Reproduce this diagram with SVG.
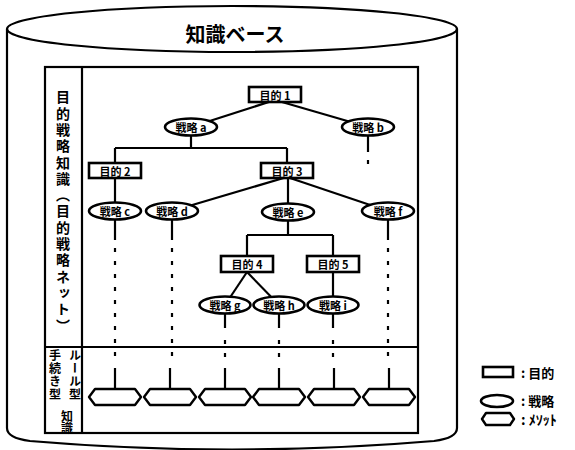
<svg xmlns="http://www.w3.org/2000/svg" width="575" height="450" viewBox="0 0 575 450">
<style>
.ln{stroke:#000;stroke-width:2.2;fill:none}
.dash{stroke:#000;stroke-width:2.2;fill:none;stroke-dasharray:4 9}
.box{fill:#fff;stroke:#000;stroke-width:2.6}
.ell{fill:#fff;stroke:#000;stroke-width:2.6}
.hex{fill:#fff;stroke:#000;stroke-width:2.4;stroke-linejoin:round}
.t{font-family:"Noto Sans CJK JP","Noto Sans",sans-serif;font-weight:bold;fill:#000}
.nt{font-size:11px;text-anchor:middle;dominant-baseline:central}
.vt{writing-mode:vertical-rl}
</style>
<g id="cylinder">
<path class="ln" d="M7 29 V428 Q7 438 30 441 Q232 458 434 441 Q457 438 457 428 V29" stroke-width="2.4"/>
<ellipse class="ln" cx="232" cy="29" rx="225" ry="23" stroke-width="2.4"/>
<text class="t" x="235" y="33" font-size="20" text-anchor="middle" dominant-baseline="central">知識ベース</text>
</g>
<g id="frame">
<rect class="ln" x="45" y="67" width="373" height="366" stroke-width="2.4"/>
<line class="ln" x1="82" y1="67" x2="82" y2="433" stroke-width="2.4"/>
<line class="ln" x1="45" y1="347" x2="418" y2="347" stroke-width="2"/>
<text class="t vt" x="63" y="90" font-size="14" letter-spacing="2.3">目的戦略知識（目的戦略ネット）</text>
<text class="t vt" x="75" y="349" font-size="12" letter-spacing="1.2">ルール型</text>
<text class="t vt" x="55" y="349" font-size="12" letter-spacing="1.2">手続き型</text>
<text class="t vt" x="67" y="410" font-size="12" letter-spacing="0">知識</text>
</g>
<g id="connectors">
<line class="ln" x1="275" y1="100" x2="191" y2="127"/>
<line class="ln" x1="275" y1="100" x2="368" y2="127"/>
<path class="ln" d="M191 135 V148 M115 148 H287 M115 148 V163 M287 148 V163"/>
<line class="ln" x1="115" y1="177" x2="115" y2="205"/>
<line class="ln" x1="287" y1="177" x2="172" y2="211"/>
<line class="ln" x1="288" y1="177" x2="288" y2="205"/>
<line class="ln" x1="287" y1="177" x2="388" y2="211"/>
<path class="ln" d="M288 220 V235 M247 235 H333 M247 235 V256 M333 235 V256"/>
<line class="ln" x1="247" y1="272" x2="225" y2="305"/>
<line class="ln" x1="247" y1="272" x2="279" y2="305"/>
<line class="ln" x1="333" y1="272" x2="333" y2="300"/>
<path class="ln" d="M368 135 V152"/>
<path class="dash" d="M368 160 V168"/>
<path class="ln" d="M115 219 V240 M172 219 V240 M388 219 V240 M225 313 V328 M279 313 V328 M333 313 V328"/>
<path class="dash" d="M115 248 V362 M172 248 V362 M388 248 V362 M225 340 V362 M279 340 V362 M333 340 V362"/>
<path class="ln" d="M115 368 V389 M170 368 V389 M225 368 V389 M279 368 V389 M334 368 V389 M389 368 V389"/>
</g>
<g id="goal1"><rect class="box" x="249" y="87" width="52" height="15"/><text class="t nt" x="275" y="94.5">目的 1</text></g>
<g id="goal2"><rect class="box" x="89" y="163" width="52" height="15"/><text class="t nt" x="115" y="170.5">目的 2</text></g>
<g id="goal3"><rect class="box" x="261" y="163" width="52" height="15"/><text class="t nt" x="287" y="170.5">目的 3</text></g>
<g id="goal4"><rect class="box" x="221" y="256" width="52" height="16"/><text class="t nt" x="247" y="264">目的 4</text></g>
<g id="goal5"><rect class="box" x="307" y="256" width="52" height="16"/><text class="t nt" x="333" y="264">目的 5</text></g>
<g id="strat-a"><ellipse class="ell" cx="191" cy="127" rx="26" ry="8.5"/><text class="t nt" x="191" y="127" font-size="10">戦略 a</text></g>
<g id="strat-b"><ellipse class="ell" cx="368" cy="127" rx="26" ry="8.5"/><text class="t nt" x="368" y="127" font-size="10">戦略 b</text></g>
<g id="strat-c"><ellipse class="ell" cx="115" cy="211" rx="26" ry="8.5"/><text class="t nt" x="115" y="211" font-size="10">戦略 c</text></g>
<g id="strat-d"><ellipse class="ell" cx="172" cy="211" rx="26" ry="8.5"/><text class="t nt" x="172" y="211" font-size="10">戦略 d</text></g>
<g id="strat-e"><ellipse class="ell" cx="288" cy="212" rx="26" ry="8.5"/><text class="t nt" x="288" y="212" font-size="10">戦略 e</text></g>
<g id="strat-f"><ellipse class="ell" cx="388" cy="211" rx="26" ry="8.5"/><text class="t nt" x="388" y="211" font-size="10">戦略 f</text></g>
<g id="strat-g"><ellipse class="ell" cx="225" cy="305" rx="25.5" ry="8.5"/><text class="t nt" x="225" y="305" font-size="10">戦略 g</text></g>
<g id="strat-h"><ellipse class="ell" cx="279" cy="305" rx="25.5" ry="8.5"/><text class="t nt" x="279" y="305" font-size="10">戦略 h</text></g>
<g id="strat-i"><ellipse class="ell" cx="333" cy="305" rx="25.5" ry="8.5"/><text class="t nt" x="333" y="305" font-size="10">戦略 i</text></g>
<g id="methods">
<polygon class="hex" points="89,397 95,389 135,389 141,397 135,405 95,405"/>
<polygon class="hex" points="144,397 150,389 190,389 196,397 190,405 150,405"/>
<polygon class="hex" points="199,397 205,389 245,389 251,397 245,405 205,405"/>
<polygon class="hex" points="253,397 259,389 299,389 305,397 299,405 259,405"/>
<polygon class="hex" points="308,397 314,389 354,389 360,397 354,405 314,405"/>
<polygon class="hex" points="363,397 369,389 409,389 415,397 409,405 369,405"/>
</g>
<g id="legend">
<rect class="box" x="483" y="367" width="30" height="10"/>
<text class="t" x="521" y="372" font-size="13" dominant-baseline="central">: 目的</text>
<ellipse class="ell" cx="497" cy="401" rx="16" ry="6"/>
<text class="t" x="521" y="400" font-size="13" dominant-baseline="central">: 戦略</text>
<polygon class="hex" points="482,419 486,413 510,413 514,419 510,425 486,425"/>
<text class="t" x="521" y="419" font-size="14" dominant-baseline="central">: ﾒｿｯﾄ</text>
</g>
</svg>
